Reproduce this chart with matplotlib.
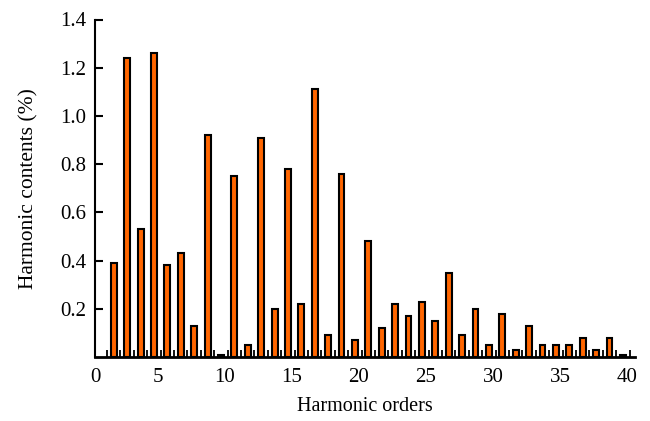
#!/usr/bin/env python3
"""
Bar chart of harmonic contents (%) for harmonic orders 2..40.
"""

import matplotlib
matplotlib.use("Agg")
import matplotlib.pyplot as plt
from matplotlib.ticker import FixedLocator

# harmonic orders and their contents in percent
orders = list(range(2, 41))
contents = [
    0.39, 1.24, 0.53, 1.26, 0.38, 0.43, 0.13, 0.92, 0.01,   # 2-10
    0.75, 0.05, 0.91, 0.20, 0.78, 0.22, 1.11, 0.09, 0.76,   # 11-19
    0.07, 0.48, 0.12, 0.22, 0.17, 0.23, 0.15, 0.35, 0.09,   # 20-28
    0.20, 0.05, 0.18, 0.03, 0.13, 0.05, 0.05, 0.05, 0.08,   # 29-37
    0.03, 0.08, 0.01,                                       # 38-40
]
x_labels = ["0", "5", "10", "15", "20", "25", "30", "35", "40"]
y_ticks = [0.2, 0.4, 0.6, 0.8, 1.0, 1.2, 1.4]

BAR_SHIFT = -0.3     # bars sit a little left of the order labels
X_START = 0.3


def main():
    plt.rcParams["font.family"] = ["Liberation Serif", "DejaVu Serif"]
    plt.rcParams["font.size"] = 15

    fig = plt.figure(figsize=(6.5, 4.21), dpi=100)
    ax = fig.add_axes([95 / 650, 1 - 357 / 421, 540 / 650, 337.5 / 421])

    xs = [o + BAR_SHIFT for o in orders]
    ax.bar(xs, contents, width=0.44, color="#FF6600",
           edgecolor="black", linewidth=1.5, zorder=3)

    ax.set_xlim(X_START, 40.6)
    ax.set_ylim(0, 1.4)

    # label positions: the "0" sits at the start of the axis
    label_pos = [X_START] + [int(s) for s in x_labels[1:]]
    ax.set_xticks(label_pos)
    ax.set_xticklabels(x_labels)
    ax.xaxis.set_minor_locator(FixedLocator([k + 0.2 for k in range(0, 41)]))
    ax.tick_params(axis="x", which="major", length=0, pad=8)
    ax.tick_params(axis="x", which="minor", direction="in", length=5,
                   width=1.3, color="black")

    ax.set_yticks(y_ticks)
    ax.set_yticklabels([f"{v:.1f}" for v in y_ticks])
    ax.tick_params(axis="y", direction="in", length=6, width=1.5, pad=6)

    for side in ("top", "right"):
        ax.spines[side].set_visible(False)
    ax.spines["left"].set_linewidth(1.5)
    ax.spines["bottom"].set_linewidth(2)

    ax.set_xlabel("Harmonic orders", fontsize=14.5, labelpad=7)
    ax.set_ylabel("Harmonic contents (%)", fontsize=15.5, labelpad=16)

    fig.savefig("out.png", dpi=100)


if __name__ == "__main__":
    main()
